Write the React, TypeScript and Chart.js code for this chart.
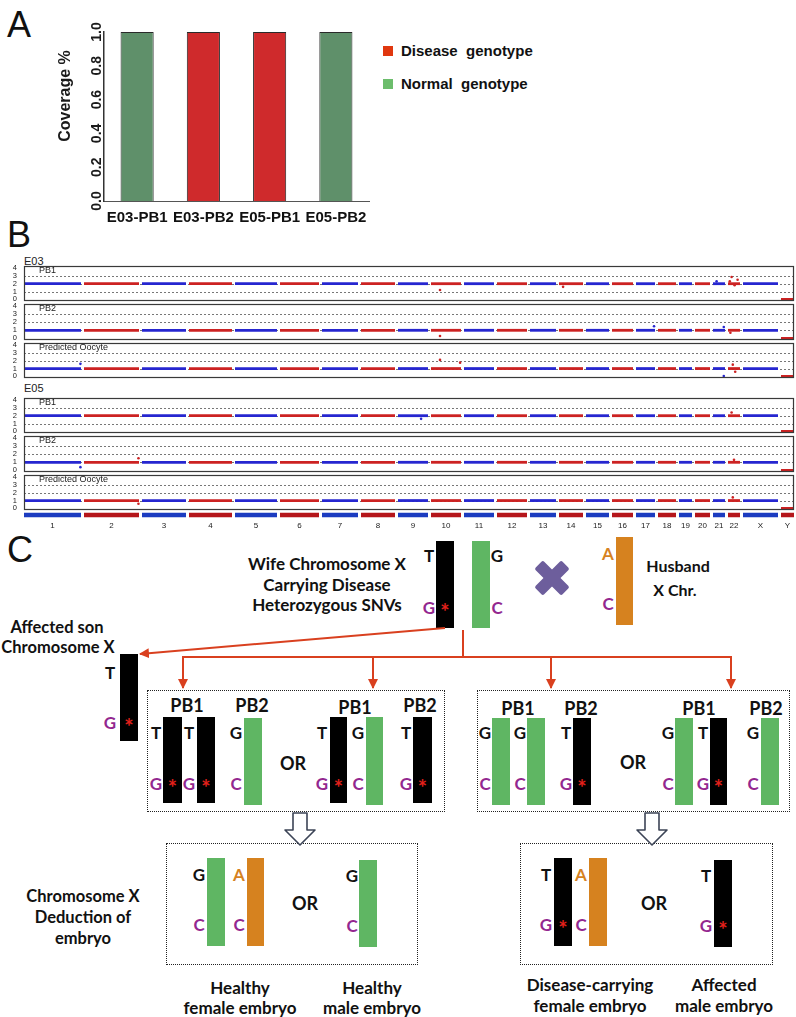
import React, { useEffect, useRef } from 'react';
import { Chart, registerables } from 'chart.js';

Chart.register(...registerables);

const FA = '"Liberation Sans", Arial, Helvetica, sans-serif';
const FC = 'Lato, "Open Sans", sans-serif';

// ---------------- Panel A data ----------------
const sampleLabels = ['E03-PB1', 'E03-PB2', 'E05-PB1', 'E05-PB2'];
const coverageValues = [1.0, 1.0, 1.0, 1.0];
const sampleGenotype = ['normal', 'disease', 'disease', 'normal'];
const coverageTicks = [0.0, 0.2, 0.4, 0.6, 0.8, 1.0];
const legendLabels = ['Disease  genotype', 'Normal  genotype'];

// ---------------- Panel B data ----------------
const chromNames = ['1', '2', '3', '4', '5', '6', '7', '8', '9', '10', '11', '12', '13', '14', '15', '16', '17', '18', '19', '20', '21', '22', 'X', 'Y'];
const chromWidths = [57, 55, 44, 43, 42, 39, 36, 34, 30, 30, 30, 30, 26, 24, 23, 21, 19, 18, 13, 15, 12, 12, 35, 13];
const chromGap = 3;
const copyTicks = [0, 1, 2, 3, 4];
const copyGridLines = [1, 2, 3];
const sampleGroups = ['E03', 'E05'];
const stripLabels = ['PB1', 'PB2', 'Predicted Oocyte'];

const e03PB1 = [2, 2, 2, 2, 2, 2, 2, 2, 2, 2, 2, 2, 2, 2, 2, 2, 2, 2, 2, 2, 2, 2, 2, 0];
const e03PB2 = [1, 1, 1, 1, 1, 1, 1, 1, 1, 1, 1, 1, 1, 1, 1, 1, 1, 1, 1, 1, 1, 1, 1, 0];
const e03Oocyte = [1, 1, 1, 1, 1, 1, 1, 1, 1, 1, 1, 1, 1, 1, 1, 1, 1, 1, 1, 1, 1, 1, 1, 0];
const e05PB1 = [2, 2, 2, 2, 2, 2, 2, 2, 2, 2, 2, 2, 2, 2, 2, 2, 2, 2, 2, 2, 2, 2, 2, 0];
const e05PB2 = [1, 1, 1, 1, 1, 1, 1, 1, 1, 1, 1, 1, 1, 1, 1, 1, 1, 1, 1, 1, 1, 1, 1, 0];
const e05Oocyte = [1, 1, 1, 1, 1, 1, 1, 1, 1, 1, 1, 1, 1, 1, 1, 1, 1, 1, 1, 1, 1, 1, 1, 0];

// outlier bins: [chromosome index, fraction along chromosome, copy number]
const e03PB1Out = [[9, 0.3, 1.2], [13, 0.17, 1.6], [20, 0.3, 2.3], [21, 0.3, 2.85], [21, 0.15, 2.3], [21, 0.8, 2.5], [21, 0.55, 1.8]];
const e03PB2Out = [[9, 0.3, 0.3], [16, 0.95, 1.5], [20, 0.9, 1.4], [21, 0.2, 0.7]];
const e03OocyteOut = [[0, 0.99, 1.6], [9, 0.3, 2.1], [9, 0.97, 1.75], [20, 0.9, 0.05], [21, 0.4, 1.5], [21, 0.6, 0.6]];
const e05PB1Out = [[8, 0.77, 1.6], [21, 0.3, 2.4]];
const e05PB2Out = [[0, 0.99, 0.4], [1, 0.99, 1.5], [21, 0.5, 1.3]];
const e05OocyteOut = [[1, 0.99, 0.6], [21, 0.4, 1.4]];

const stripValues = [e03PB1, e03PB2, e03Oocyte, e05PB1, e05PB2, e05Oocyte];
const stripOutliers = [e03PB1Out, e03PB2Out, e03OocyteOut, e05PB1Out, e05PB2Out, e05OocyteOut];

// layout of strips (page pixels)
const stripTops = [266, 304, 343, 398, 436, 475];
const stripBottoms = [301, 340, 378, 433, 472, 510];
const STRIP_PAD = 5;

const chromStart: number[] = [];
{
  let acc = 0;
  chromWidths.forEach((w) => { chromStart.push(acc); acc += w + chromGap; });
}
const genomeTotal = chromWidths.reduce((a, b) => a + b, 0) + chromGap * (chromWidths.length - 1);

const BLUE = '#2626d0';
const RED = '#cc2222';
const chromColor = (i: number) => (i % 2 === 0 ? BLUE : RED);

function stripConfig(idx: number): any {
  const values = stripValues[idx];
  const outs = stripOutliers[idx];
  const datasets: any[] = chromNames.map((_, i) => ({
    type: 'line',
    data: [
      { x: chromStart[i], y: values[i] },
      { x: chromStart[i] + chromWidths[i], y: values[i] },
    ],
    borderColor: chromColor(i),
    borderWidth: 2.8,
    pointRadius: 0,
    fill: false,
    clip: false,
  }));
  datasets.push({
    type: 'scatter',
    data: outs.map((o) => ({ x: chromStart[o[0]] + o[1] * chromWidths[o[0]], y: o[2] })),
    backgroundColor: outs.map((o) => chromColor(o[0])),
    borderWidth: 0,
    pointRadius: 1.3,
  });
  return {
    type: 'line',
    data: { datasets },
    options: {
      animation: false,
      responsive: false,
      maintainAspectRatio: false,
      events: [],
      layout: { autoPadding: false, padding: { top: STRIP_PAD, bottom: STRIP_PAD, left: 24, right: 2 } },
      plugins: {
        legend: { display: false },
        tooltip: { enabled: false },
        stripFrame: { label: stripLabels[idx % 3] },
      },
      scales: {
        x: { type: 'linear', min: 0, max: genomeTotal, display: false },
        y: { type: 'linear', min: -0.2, max: 4.25, display: false },
      },
    },
    plugins: [
      {
        id: 'stripFrame',
        beforeDatasetsDraw(chart: any) {
          const { ctx, chartArea: a } = chart;
          const ys = chart.scales.y;
          ctx.save();
          ctx.strokeStyle = '#555';
          ctx.lineWidth = 0.8;
          ctx.setLineDash([2, 2]);
          copyGridLines.forEach((v) => {
            const py = Math.round(ys.getPixelForValue(v)) + 0.5;
            ctx.beginPath();
            ctx.moveTo(a.left, py);
            ctx.lineTo(a.right, py);
            ctx.stroke();
          });
          ctx.setLineDash([]);
          ctx.font = `7.5px ${FA}`;
          ctx.fillStyle = '#222';
          ctx.textAlign = 'right';
          ctx.textBaseline = 'middle';
          copyTicks.forEach((v) => {
            ctx.fillText(String(v), a.left - 7, ys.getPixelForValue(v));
          });
          ctx.restore();
        },
        afterDraw(chart: any, _a: any, opts: any) {
          const { ctx, chartArea: a } = chart;
          ctx.save();
          ctx.strokeStyle = '#3a3a3a';
          ctx.lineWidth = 1.2;
          ctx.strokeRect(a.left + 0.5, a.top + 0.5, a.right - a.left - 1, a.bottom - a.top - 1);
          ctx.font = `9px ${FA}`;
          ctx.fillStyle = '#222';
          ctx.textBaseline = 'middle';
          ctx.fillText(opts.label, a.left + 15, a.top + 5);
          ctx.restore();
        },
      },
    ],
  };
}

function chromConfig(): any {
  const datasets = chromNames.map((_, i) => ({
    type: 'line',
    data: [
      { x: chromStart[i], y: 0.5 },
      { x: chromStart[i] + chromWidths[i], y: 0.5 },
    ],
    borderColor: i % 2 === 0 ? '#1c3cc0' : '#b5161b',
    borderWidth: 4.5,
    borderCapStyle: 'butt',
    pointRadius: 0,
  }));
  return {
    type: 'line',
    data: { datasets },
    options: {
      animation: false,
      responsive: false,
      maintainAspectRatio: false,
      events: [],
      layout: { padding: { top: 0, bottom: 0, left: 24, right: 2 } },
      plugins: { legend: { display: false }, tooltip: { enabled: false } },
      scales: {
        x: {
          type: 'linear',
          min: 0,
          max: genomeTotal,
          afterBuildTicks: (s: any) => { s.ticks = chromNames.map((_, i) => ({ value: chromStart[i] + chromWidths[i] / 2 })); },
          afterFit: (s: any) => { s.height = 12; },
          ticks: {
            autoSkip: false,
            maxRotation: 0,
            minRotation: 0,
            padding: 0,
            font: { size: 8, family: FA },
            color: '#222',
            callback: (_v: any, i: number) => chromNames[i],
          },
          grid: { display: false, drawTicks: false },
          border: { display: false },
        },
        y: { type: 'linear', min: 0, max: 1, display: false },
      },
    },
  };
}

function coverageConfig(): any {
  return {
    type: 'bar',
    data: {
      labels: sampleLabels,
      datasets: [
        {
          data: coverageValues,
          backgroundColor: sampleGenotype.map((g) => (g === 'disease' ? '#cf2a2c' : '#5f906a')),
          borderColor: '#2a2a2a',
          borderWidth: 1,
          categoryPercentage: 1,
          barPercentage: 0.5,
        },
      ],
    },
    options: {
      animation: false,
      responsive: false,
      maintainAspectRatio: false,
      events: [],
      layout: { padding: { top: 32, right: 11, left: 0, bottom: 0 } },
      plugins: { legend: { display: false }, tooltip: { enabled: false } },
      scales: {
        x: {
          grid: { display: false, drawTicks: false },
          border: { display: true, color: '#555', width: 1 },
          afterFit: (s: any) => { s.height = 29; },
          ticks: {
            autoSkip: false,
            maxRotation: 0,
            minRotation: 0,
            font: { size: 15, weight: 'bold', family: FA },
            color: '#111',
            padding: 8,
          },
        },
        y: {
          min: 0,
          max: 1,
          afterBuildTicks: (s: any) => { s.ticks = coverageTicks.map((v) => ({ value: v })); },
          afterFit: (s: any) => { s.width = 104; },
          ticks: { display: false },
          grid: { display: false, drawTicks: false },
          border: { display: true, color: '#333', width: 1.5 },
        },
      },
    },
    plugins: [
      {
        id: 'rotTicks',
        afterDraw(chart: any) {
          const { ctx, chartArea: a } = chart;
          const ys = chart.scales.y;
          ctx.save();
          ctx.fillStyle = '#1a1a1a';
          ctx.textAlign = 'center';
          ctx.textBaseline = 'middle';
          ctx.font = `bold 14px ${FA}`;
          coverageTicks.forEach((v) => {
            ctx.save();
            ctx.translate(a.left - 7, ys.getPixelForValue(v));
            ctx.rotate(-Math.PI / 2);
            ctx.fillText(v.toFixed(1), 0, 0);
            ctx.restore();
          });
          ctx.font = `bold 16px ${FA}`;
          ctx.translate(a.left - 38, a.top + 64);
          ctx.rotate(-Math.PI / 2);
          ctx.fillText('Coverage %', 0, 0);
          ctx.restore();
        },
      },
    ],
  };
}

// ---------------- Panel C helpers ----------------
const PURPLE = '#93278f';
const ORANGE = '#d6821f';
const GREEN = '#5fb663';
const STAR = '#e3201b';

function Txt(p: { x: number; y: number; children: any; size?: number; color?: string; weight?: number; family?: string }) {
  return (
    <div
      style={{
        position: 'absolute',
        left: p.x,
        top: p.y,
        transform: 'translate(-50%,-50%)',
        fontFamily: p.family || FC,
        fontSize: p.size || 17,
        fontWeight: p.weight === undefined ? 700 : p.weight,
        color: p.color || '#111',
        lineHeight: 1,
        whiteSpace: 'nowrap',
      }}
    >
      {p.children}
    </div>
  );
}

function Bar(p: { x1: number; x2: number; y1: number; y2: number; color: string }) {
  return <div style={{ position: 'absolute', left: p.x1, top: p.y1, width: p.x2 - p.x1, height: p.y2 - p.y1, background: p.color }} />;
}

function Star(p: { x: number; y: number }) {
  return <Txt x={p.x} y={p.y + 5} size={22} color={STAR}>*</Txt>;
}

function DotBox(p: { x1: number; y1: number; x2: number; y2: number }) {
  return (
    <div
      style={{
        position: 'absolute',
        left: p.x1,
        top: p.y1,
        width: p.x2 - p.x1,
        height: p.y2 - p.y1,
        border: '1.5px dotted #222',
        boxSizing: 'border-box',
      }}
    />
  );
}

function Chrom(p: { x1: number; x2: number; y1: number; y2: number; kind: 'd' | 'n' | 'h'; top: string; bot: string; star?: boolean; lx: number; ty: number; by: number }) {
  const color = p.kind === 'd' ? '#000' : p.kind === 'n' ? GREEN : ORANGE;
  return (
    <>
      <Bar x1={p.x1} x2={p.x2} y1={p.y1} y2={p.y2} color={color} />
      <Txt x={p.lx} y={p.ty} color={p.kind === 'h' ? ORANGE : '#111'}>{p.top}</Txt>
      <Txt x={p.lx} y={p.by} color={PURPLE}>{p.bot}</Txt>
      {p.star ? <Star x={(p.x1 + p.x2) / 2} y={p.by} /> : null}
    </>
  );
}

function HollowArrow(p: { x: number }) {
  const x = p.x;
  const d = `M ${x - 7} 813 L ${x + 7} 813 L ${x + 7} 830 L ${x + 15} 830 L ${x} 845 L ${x - 15} 830 L ${x - 7} 830 Z`;
  return <path d={d} fill="#fff" stroke="#3c4456" strokeWidth={1.6} strokeLinejoin="round" />;
}

export default function App() {
  const aRef = useRef<HTMLCanvasElement>(null);
  const stripRefs = useRef<(HTMLCanvasElement | null)[]>([]);
  const chromRef = useRef<HTMLCanvasElement>(null);

  useEffect(() => {
    const charts: Chart[] = [];
    charts.push(new Chart(aRef.current as HTMLCanvasElement, coverageConfig()));
    stripValues.forEach((_, i) => {
      const c = stripRefs.current[i];
      if (c) charts.push(new Chart(c, stripConfig(i)));
    });
    charts.push(new Chart(chromRef.current as HTMLCanvasElement, chromConfig()));
    return () => charts.forEach((c) => c.destroy());
  }, []);

  const RC = '#d9401f';

  return (
    <div style={{ position: 'absolute', left: 0, top: 0, width: 796, height: 1017, overflow: 'hidden', background: '#fff' }}>
      {/* Panel letters */}
      <Txt x={19} y={25} size={36} weight={400} family={FA}>A</Txt>
      <Txt x={19} y={235} size={36} weight={400} family={FA}>B</Txt>
      <Txt x={20} y={550} size={36} weight={400} family={FA}>C</Txt>

      {/* Panel A */}
      <canvas ref={aRef} width={380} height={230} style={{ position: 'absolute', left: 0, top: 0 }} />
      <div style={{ position: 'absolute', left: 383, top: 46, width: 10, height: 10, background: '#e0370f' }} />
      <div style={{ position: 'absolute', left: 383, top: 79, width: 10, height: 10, background: '#6cbd6c' }} />
      <div style={{ position: 'absolute', left: 401, top: 41, fontFamily: FA, fontWeight: 700, fontSize: 15, lineHeight: '19px', whiteSpace: 'pre', color: '#111' }}>{legendLabels[0]}</div>
      <div style={{ position: 'absolute', left: 401, top: 74, fontFamily: FA, fontWeight: 700, fontSize: 15, lineHeight: '19px', whiteSpace: 'pre', color: '#111' }}>{legendLabels[1]}</div>

      {/* Panel B */}
      <div style={{ position: 'absolute', left: 24, top: 255, fontFamily: FA, fontSize: 11, lineHeight: '12px', color: '#222' }}>{sampleGroups[0]}</div>
      <div style={{ position: 'absolute', left: 24, top: 382, fontFamily: FA, fontSize: 11, lineHeight: '12px', color: '#222' }}>{sampleGroups[1]}</div>
      {stripValues.map((_, i) => (
        <canvas
          key={i}
          ref={(el) => { stripRefs.current[i] = el; }}
          width={796}
          height={stripBottoms[i] - stripTops[i] + 2 * STRIP_PAD}
          style={{ position: 'absolute', left: 0, top: stripTops[i] - STRIP_PAD }}
        />
      ))}
      <canvas ref={chromRef} width={796} height={24} style={{ position: 'absolute', left: 0, top: 509 }} />

      {/* Panel C */}
      <Txt x={327} y={563}>Wife Chromosome X</Txt>
      <Txt x={327} y={584}>Carrying Disease</Txt>
      <Txt x={327} y={604}>Heterozygous SNVs</Txt>
      <Chrom x1={436} x2={454} y1={541} y2={628} kind="d" top="T" bot="G" star lx={429} ty={555} by={607} />
      <Chrom x1={472} x2={490} y1={541} y2={628} kind="n" top="G" bot="C" lx={497} ty={555} by={607} />
      <Chrom x1={616} x2={633} y1={537} y2={625} kind="h" top="A" bot="C" lx={608} ty={553} by={603} />
      <Txt x={678} y={566} size={16}>Husband</Txt>
      <Txt x={675} y={590} size={16}>X Chr.</Txt>

      <Txt x={57} y={627} size={16.5}>Affected son</Txt>
      <Txt x={58} y={647} size={16.5}>Chromosome X</Txt>
      <Chrom x1={120} x2={138} y1={654} y2={741} kind="d" top="T" bot="G" star lx={110} ty={672} by={722} />

      <DotBox x1={147} y1={690} x2={445} y2={812} />
      <DotBox x1={477} y1={690} x2={790} y2={812} />

      {/* box 1 */}
      <Txt x={187} y={705} size={18}>PB1</Txt>
      <Txt x={252} y={705} size={18}>PB2</Txt>
      <Chrom x1={163} x2={182} y1={717} y2={803} kind="d" top="T" bot="G" star lx={156} ty={732} by={783} />
      <Chrom x1={197} x2={215} y1={717} y2={803} kind="d" top="T" bot="G" star lx={189} ty={732} by={783} />
      <Chrom x1={244} x2={262} y1={718} y2={805} kind="n" top="G" bot="C" lx={236} ty={732} by={783} />
      <Txt x={293} y={763} size={18}>OR</Txt>
      <Txt x={355} y={707} size={18}>PB1</Txt>
      <Txt x={420} y={705} size={18}>PB2</Txt>
      <Chrom x1={330} x2={347} y1={717} y2={803} kind="d" top="T" bot="G" star lx={322} ty={732} by={783} />
      <Chrom x1={366} x2={383} y1={717} y2={805} kind="n" top="G" bot="C" lx={358} ty={732} by={783} />
      <Chrom x1={413} x2={432} y1={717} y2={803} kind="d" top="T" bot="G" star lx={406} ty={732} by={783} />

      {/* box 2 */}
      <Txt x={518} y={708} size={18}>PB1</Txt>
      <Txt x={581} y={708} size={18}>PB2</Txt>
      <Chrom x1={492} x2={510} y1={718} y2={805} kind="n" top="G" bot="C" lx={485} ty={732} by={783} />
      <Chrom x1={527} x2={545} y1={718} y2={805} kind="n" top="G" bot="C" lx={520} ty={732} by={783} />
      <Chrom x1={573} x2={591} y1={718} y2={805} kind="d" top="T" bot="G" star lx={566} ty={732} by={783} />
      <Txt x={633} y={762} size={18}>OR</Txt>
      <Txt x={699} y={708} size={18}>PB1</Txt>
      <Txt x={766} y={708} size={18}>PB2</Txt>
      <Chrom x1={675} x2={693} y1={718} y2={805} kind="n" top="G" bot="C" lx={668} ty={732} by={783} />
      <Chrom x1={710} x2={727} y1={718} y2={805} kind="d" top="T" bot="G" star lx={703} ty={732} by={783} />
      <Chrom x1={761} x2={779} y1={718} y2={805} kind="n" top="G" bot="C" lx={753} ty={732} by={783} />

      {/* deduction */}
      <Txt x={83} y={896} size={16.5}>Chromosome X</Txt>
      <Txt x={83} y={917} size={16.5}>Deduction of</Txt>
      <Txt x={83} y={938} size={16.5}>embryo</Txt>
      <DotBox x1={166} y1={843} x2={418} y2={965} />
      <DotBox x1={520} y1={843} x2={773} y2={965} />
      <Chrom x1={207} x2={225} y1={858} y2={946} kind="n" top="G" bot="C" lx={199} ty={874} by={924} />
      <Chrom x1={247} x2={264} y1={858} y2={946} kind="h" top="A" bot="C" lx={239} ty={874} by={924} />
      <Txt x={305} y={903} size={18}>OR</Txt>
      <Chrom x1={359} x2={377} y1={860} y2={947} kind="n" top="G" bot="C" lx={352} ty={875} by={925} />
      <Chrom x1={554} x2={572} y1={858} y2={946} kind="d" top="T" bot="G" star lx={546} ty={874} by={924} />
      <Chrom x1={589} x2={607} y1={858} y2={946} kind="h" top="A" bot="C" lx={581} ty={874} by={924} />
      <Txt x={654} y={903} size={18}>OR</Txt>
      <Chrom x1={714} x2={732} y1={860} y2={947} kind="d" top="T" bot="G" star lx={706} ty={875} by={925} />

      <Txt x={240} y={987}>Healthy</Txt>
      <Txt x={240} y={1007}>female embryo</Txt>
      <Txt x={372} y={987}>Healthy</Txt>
      <Txt x={372} y={1007}>male embryo</Txt>
      <Txt x={590} y={984}>Disease-carrying</Txt>
      <Txt x={590} y={1005}>female embryo</Txt>
      <Txt x={724} y={984}>Affected</Txt>
      <Txt x={724} y={1005}>male embryo</Txt>

      {/* arrows & cross */}
      <svg width={796} height={1017} style={{ position: 'absolute', left: 0, top: 0, pointerEvents: 'none' }}>
        <defs>
          <marker id="ah" viewBox="0 0 10 10" refX="9" refY="5" markerWidth="5" markerHeight="5" orient="auto" markerUnits="strokeWidth">
            <path d="M 0 0 L 10 5 L 0 10 Z" fill={RC} />
          </marker>
        </defs>
        <g stroke={RC} strokeWidth={2} fill="none">
          <line x1={445} y1={628} x2={140} y2={654} markerEnd="url(#ah)" />
          <line x1={463} y1={630} x2={463} y2={657} />
          <line x1={182} y1={657} x2={732} y2={657} />
          <line x1={183} y1={657} x2={183} y2={688} markerEnd="url(#ah)" />
          <line x1={373} y1={657} x2={373} y2={688} markerEnd="url(#ah)" />
          <line x1={551} y1={657} x2={551} y2={688} markerEnd="url(#ah)" />
          <line x1={731} y1={657} x2={731} y2={688} markerEnd="url(#ah)" />
        </g>
        <HollowArrow x={300} />
        <HollowArrow x={652} />
        <g transform="translate(552,578)">
          <rect x={-19} y={-6} width={38} height={12} rx={2} fill="#6d5e9c" transform="rotate(45)" />
          <rect x={-19} y={-6} width={38} height={12} rx={2} fill="#6d5e9c" transform="rotate(-45)" />
        </g>
      </svg>
    </div>
  );
}
